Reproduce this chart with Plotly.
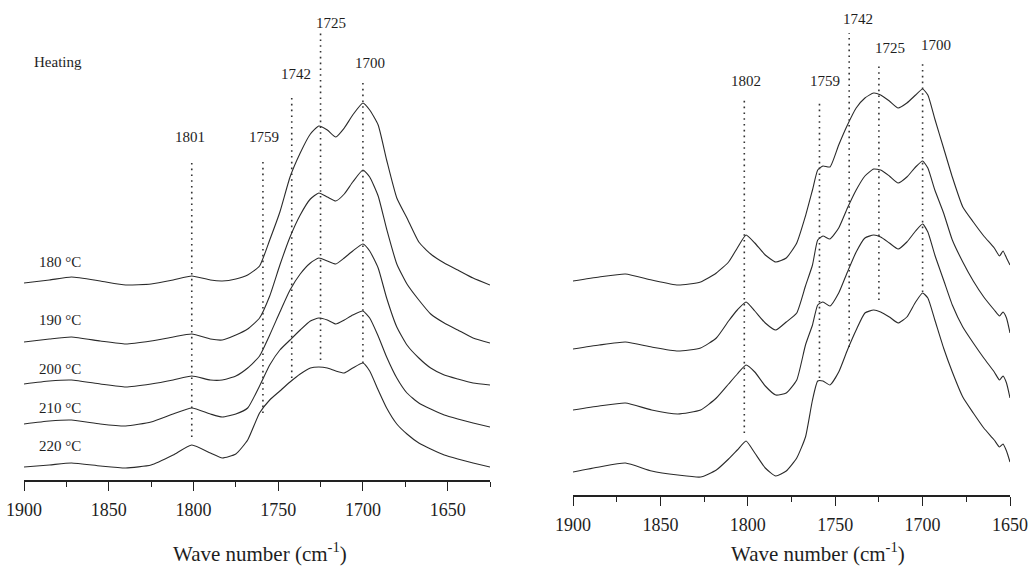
import plotly.graph_objects as go

# ---------------- Heating panel data (absorbance, arbitrary stacked units) ----------------
heat_wn = [1900, 1885, 1872, 1855, 1840, 1825, 1812, 1801, 1790, 1783, 1775, 1768, 1761,
           1755, 1749, 1743, 1737, 1731, 1726, 1721, 1716, 1711, 1706, 1700, 1696, 1691,
           1686, 1680, 1674, 1667, 1660, 1652, 1644, 1635, 1625]
heat_180 = [197, 200, 203, 199, 195, 196, 200, 204, 200, 199, 201, 205, 214,
            240, 268, 303, 327, 346, 354, 350, 343, 352, 365, 377, 370, 355,
            320, 282, 262, 238, 226, 217, 210, 202, 195]
heat_190 = [138, 141, 143, 139, 136, 139, 143, 146, 141, 140, 145, 151, 162,
            184, 215, 243, 265, 281, 287, 283, 279, 286, 298, 310, 303, 284,
            251, 216, 196, 180, 166, 157, 150, 142, 137]
heat_200 = [96, 99, 100, 96, 93, 96, 100, 104, 100, 100, 104, 112, 124,
            145, 168, 190, 206, 217, 222, 219, 216, 222, 229, 236, 229, 212,
            182, 153, 135, 122, 112, 105, 101, 97, 95]
heat_210 = [56, 59, 60, 56, 54, 58, 66, 72, 66, 63, 66, 72, 94,
            115, 130, 140, 150, 159, 162, 160, 156, 160, 165, 169, 162, 144,
            123, 102, 87, 77, 71, 65, 61, 57, 53]
heat_220 = [13, 15, 17, 14, 12, 15, 25, 35, 27, 22, 26, 40, 67,
            80, 89, 98, 106, 112, 113, 112, 109, 107, 112, 117, 109, 90,
            72, 56, 46, 37, 31, 25, 21, 17, 13]
heat_series = [heat_180, heat_190, heat_200, heat_210, heat_220]
heat_labels = ["180 °C", "190 °C", "200 °C", "210 °C", "220 °C"]
heat_label_y = [218, 160, 111, 72, 34]
heat_peaks = [1801, 1759, 1742, 1725, 1700]
heat_peak_low = [43, 67, 102, 120, 117]
heat_peak_high = [317, 321, 386, 447, 400]
heat_peak_text_y = [343, 343, 406, 457, 417]

# ---------------- Cooling panel data ----------------
cool_wn = [1900, 1885, 1870, 1855, 1840, 1827, 1818, 1811, 1806, 1801, 1796, 1790, 1784,
           1778, 1772, 1767, 1763, 1760, 1757, 1753, 1748, 1743, 1738, 1733, 1728, 1724,
           1719, 1714, 1709, 1704, 1700, 1697, 1693, 1688, 1683, 1677, 1671, 1665, 1659,
           1656, 1654, 1652, 1650]
cool_220 = [214, 218, 221, 215, 210, 213, 222, 233, 247, 260, 252, 240, 233,
            237, 252, 279, 305, 325, 329, 328, 350, 370, 387, 397, 402, 400,
            394, 387, 392, 400, 406, 400, 376, 347, 318, 288, 273, 259, 247,
            239, 244, 237, 230]
cool_200 = [146, 150, 153, 148, 144, 147, 157, 174, 185, 193, 184, 172, 165,
            173, 182, 209, 230, 255, 259, 256, 267, 287, 305, 319, 326, 325,
            319, 312, 318, 328, 334, 327, 305, 282, 255, 233, 214, 198, 185,
            179, 183, 177, 162]
cool_180 = [85, 89, 92, 85, 81, 85, 97, 111, 121, 130, 123, 109, 100,
            102, 115, 150, 170, 190, 193, 189, 202, 223, 243, 257, 260, 258,
            252, 246, 253, 264, 271, 263, 240, 215, 190, 168, 152, 137, 123,
            115, 119, 112, 97]
cool_140 = [23, 28, 32, 24, 20, 18, 25, 36, 45, 54, 42, 27, 19,
            24, 37, 58, 95, 114, 114, 110, 123, 145, 165, 182, 185, 183,
            178, 172, 178, 193, 202, 197, 175, 147, 123, 98, 82, 67, 55,
            48, 51, 44, 33]
cool_series = [cool_220, cool_200, cool_180, cool_140]
cool_labels = ["220 °C", "200 °C", "180 °C", "140 °C"]
cool_label_y = [233, 163, 102, 44]
cool_peaks = [1802, 1759, 1742, 1725, 1700]
cool_peak_low = [62, 117, 148, 195, 203]
cool_peak_high = [396, 392, 462, 432, 433]
cool_peak_text_y = [414, 414, 476, 447, 450]

tick_vals_left = [1900, 1850, 1800, 1750, 1700, 1650]
minor_vals_left = [1875, 1825, 1775, 1725, 1675, 1625]
tick_vals_right = [1900, 1850, 1800, 1750, 1700, 1650]
minor_vals_right = [1875, 1825, 1775, 1725, 1675]

FONT = "Liberation Serif, Times New Roman, serif"
INK = "#1e1e1e"

fig = go.Figure()

def add_panel(wn, series, peaks, lo, hi, xa, ya):
    for s in series:
        fig.add_trace(go.Scatter(x=wn, y=s, mode="lines", xaxis=xa, yaxis=ya,
                                 line=dict(color="#2a2a2a", width=1.1, shape="spline", smoothing=0.5),
                                 hoverinfo="skip"))
    for p, a, b in zip(peaks, lo, hi):
        fig.add_trace(go.Scatter(x=[p, p], y=[a, b], mode="lines", xaxis=xa, yaxis=ya,
                                 line=dict(color="#333333", width=1.6, dash="1.6px,4.2px"),
                                 hoverinfo="skip"))

add_panel(heat_wn, heat_series, heat_peaks, heat_peak_low, heat_peak_high, "x", "y")
add_panel(cool_wn, cool_series, cool_peaks, cool_peak_low, cool_peak_high, "x2", "y2")

ann = []
for t, yv in zip(heat_labels, heat_label_y):
    ann.append(dict(x=1892.5, y=yv, xref="x", yref="y", text=t, showarrow=False,
                    xanchor="left", yanchor="middle", font=dict(family=FONT, size=15, color=INK)))
for t, yv in zip(cool_labels, cool_label_y):
    ann.append(dict(x=1901, y=yv, xref="x2", yref="y2", text=t, showarrow=False,
                    xanchor="left", yanchor="middle", font=dict(family=FONT, size=15, color=INK)))
ann.append(dict(x=1895, y=418, xref="x", yref="y", text="Heating", showarrow=False,
                xanchor="left", yanchor="middle", font=dict(family=FONT, size=15, color=INK)))
ann.append(dict(x=1901, y=452, xref="x2", yref="y2", text="Cooling", showarrow=False,
                xanchor="left", yanchor="middle", font=dict(family=FONT, size=15, color=INK)))

heat_shift = [-2, 1, 4, 10, 7]
cool_shift = [2, 6, 9, 11, 13]
for p, yv, sh in zip(heat_peaks, heat_peak_text_y, heat_shift):
    ann.append(dict(x=p, y=yv, xref="x", yref="y", text=str(p), showarrow=False, xshift=sh,
                    xanchor="center", yanchor="middle", font=dict(family=FONT, size=15, color=INK)))
for p, yv, sh in zip(cool_peaks, cool_peak_text_y, cool_shift):
    ann.append(dict(x=p, y=yv, xref="x2", yref="y2", text=str(p), showarrow=False, xshift=sh,
                    xanchor="center", yanchor="middle", font=dict(family=FONT, size=15, color=INK)))

ann.append(dict(x=0.2515, y=(566 - 552) / 566, xref="paper", yref="paper",
                text="Wave number (cm<sup>-1</sup>)", showarrow=False, xanchor="center", yanchor="middle",
                font=dict(family=FONT, size=21, color=INK)))
ann.append(dict(x=0.791, y=(566 - 552) / 566, xref="paper", yref="paper",
                text="Wave number (cm<sup>-1</sup>)", showarrow=False, xanchor="center", yanchor="middle",
                font=dict(family=FONT, size=21, color=INK)))

def xaxis_cfg(domain, rng, tv, mv, anchor):
    return dict(domain=domain, range=rng, anchor=anchor, automargin=False,
                showline=True, linecolor="#222", linewidth=1.5,
                ticks="outside", ticklen=9, tickwidth=1.4, tickcolor="#222",
                tickmode="array", tickvals=tv, ticktext=[str(v) for v in tv],
                minor=dict(tickmode="array", tickvals=mv, ticks="outside", ticklen=5, tickwidth=1.4,
                           tickcolor="#222", showgrid=False),
                showgrid=False, zeroline=False, ticklabelstandoff=4,
                tickfont=dict(family=FONT, size=18, color=INK))

fig.update_layout(
    template="none",
    width=1034, height=566, margin=dict(l=0, r=0, t=0, b=0, pad=0),
    paper_bgcolor="white", plot_bgcolor="white", showlegend=False,
    xaxis=xaxis_cfg([24 / 1034, 490 / 1034], [1900, 1625], tick_vals_left, minor_vals_left, "y"),
    yaxis=dict(domain=[(566 - 480) / 566, 1], range=[0, 480], visible=False, automargin=False),
    xaxis2=xaxis_cfg([573 / 1034, 1010 / 1034], [1900, 1650], tick_vals_right, minor_vals_right, "y2"),
    yaxis2=dict(domain=[(566 - 495) / 566, 1], range=[0, 495], visible=False, automargin=False),
    annotations=ann,
)

fig.write_html("out.html")
